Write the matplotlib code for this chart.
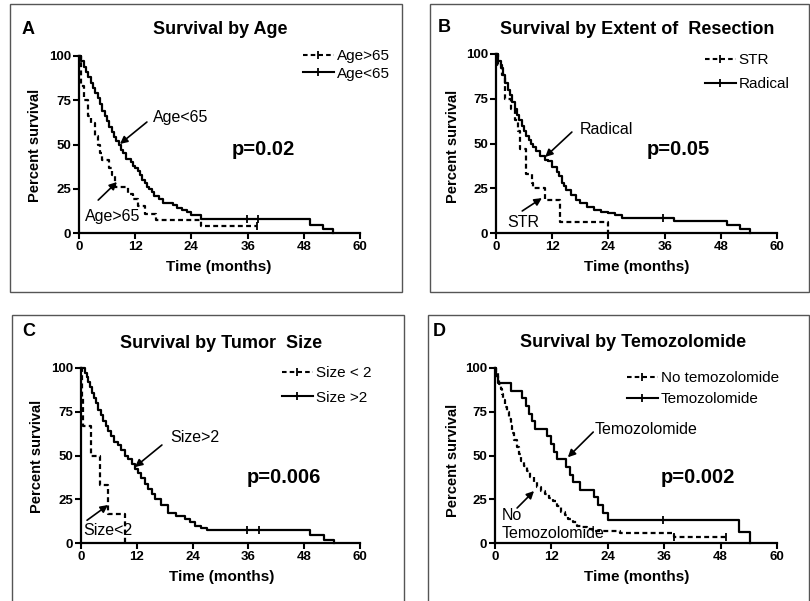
import matplotlib
matplotlib.use("Agg")
import matplotlib.pyplot as plt
from matplotlib.lines import Line2D
from matplotlib.patches import Rectangle

plt.rcParams['font.family'] = ['Liberation Sans', 'DejaVu Sans']

# ---- data (months, percent survival) ----
# A: age
age_gt65_t = [0, 0.5, 1.0, 2.0, 2.5, 3.5, 4.0, 4.5, 5.0, 6.3, 7.0, 7.7, 10.5, 11.5, 12.5, 14.0, 16.5, 26.0]
age_gt65_s = [100, 83, 75, 66, 62, 55, 50, 45, 41, 37, 33, 26, 22, 19, 15, 11, 7.4, 3.7]
age_gt65_end = 38
age_gt65_cens = [38]

age_lt65_t = [0, 0.5, 1, 1.5, 2, 2.5, 3, 3.5, 4, 4.5, 5, 5.5, 6, 6.5, 7, 7.5, 8, 8.5, 9, 9.5, 10,
              11, 11.5, 12, 12.5, 13, 13.5, 14, 14.5, 15, 15.5, 16, 17, 18, 20, 21, 22, 23, 24, 26,
              49.3, 52.1, 54.3]
age_lt65_s = [100, 97, 94, 91, 88, 85, 82, 79, 76, 73, 69, 66, 63, 60, 57, 54, 52, 50, 47, 45, 42,
              40, 38, 37, 35, 33, 30, 28, 26, 25, 23, 21, 19, 17, 16, 14, 13, 12, 10, 7.7,
              4.5, 2.1, 0]
age_lt65_end = None
age_lt65_cens = [35.8, 38.2]

# B: extent of resection
str_t = [0, 0.4, 1.2, 1.9, 3.2, 4.0, 4.8, 5.1, 6.5, 7.6, 8.0, 10.5, 13.7, 24.0]
str_s = [100, 94, 88, 75, 69, 63, 57, 47, 33, 28, 25, 18.6, 6.3, 0]
str_end = None
str_cens = []

rad_t = [0, 0.5, 1, 1.5, 2, 2.5, 3, 3.5, 4, 4.5, 5, 5.5, 6, 6.5, 7, 7.5, 8, 8.5, 9.5, 10.5, 11,
         12, 13, 13.5, 14, 14.5, 15, 16, 17, 18, 19.5, 21, 22.5, 24, 25.5, 27, 38, 49.3, 52, 54.3]
rad_s = [100, 96, 92, 88, 84, 80, 77, 73, 69, 66, 63, 60, 57, 54, 52, 50, 48, 46, 43, 41, 40,
         37, 34, 32, 28, 26, 24, 21, 18.5, 16.5, 14.7, 13, 11.5, 11, 10, 8.4, 6.5, 4.4, 2.2, 0]
rad_end = None
rad_cens = [35.6]

# C: tumor size
small_t = [0, 0.2, 0.4, 2.1, 4.1, 5.7, 9.5]
small_s = [100, 83.3, 66.7, 50, 33.3, 16.7, 0]
small_end = None
small_cens = []

big_t = [0, 0.8, 1.2, 1.6, 2.0, 2.4, 2.8, 3.2, 3.7, 4.2, 4.7, 5.3, 5.9, 6.5, 7.2, 8.0, 8.7, 9.4,
         10.2, 10.9, 11.6, 12.3, 13.0, 13.7, 14.4, 15.2, 16.0, 17.3, 18.8, 20.5, 22.4, 23.5, 24.5,
         25.8, 27.0, 49.2, 52.2, 54.4]
big_s = [100, 97, 95, 92, 89, 86, 83, 80, 76, 73, 70, 67, 64, 61, 58, 56, 53, 50,
         48, 45, 42.5, 40, 37, 34, 31, 28, 25, 21.5, 17, 15.5, 14, 12, 10,
         8.5, 7.7, 4.8, 2, 0]
big_end = None
big_cens = [35.7, 38.3]

# D: temozolomide
notmz_t = [0, 0.3, 0.6, 0.9, 1.2, 1.5, 1.8, 2.1, 2.5, 2.9, 3.3, 3.7, 4.1, 4.6, 5.1, 5.6, 6.2, 6.8,
           7.5, 8.2, 9.0, 9.8, 10.6, 11.5, 12.4, 13.2, 14.0, 14.8, 15.6, 16.5, 17.5, 18.5, 19.5,
           21.0, 26.5, 38.0]
notmz_s = [100, 97, 94, 91, 88, 85, 82, 78, 75, 71, 67, 63, 59, 55, 51, 47, 44, 41,
           38, 35, 32, 30, 28, 26, 24, 21, 18, 16, 14, 12, 10, 9, 8,
           7, 5.5, 3.6]
notmz_end = 49.2
notmz_cens = [38.0, 49.2]

tmz_t = [0, 0.3, 0.6, 3.5, 5.7, 6.5, 7.2, 7.8, 8.5, 11.0, 12.0, 12.6, 13.1, 15.0, 16.0, 16.5,
         18.0, 21.0, 22.0, 23.0, 24.0, 52.0, 54.2]
tmz_s = [100, 95.7, 91.3, 87.0, 82.6, 78.3, 73.9, 69.6, 65.2, 60.9, 56.5, 52.2, 47.8, 43.5, 39.1,
         34.8, 30.4, 26.1, 21.7, 17.4, 13.0, 6.5, 0]
tmz_end = None
tmz_cens = [35.7]

xticks = [0, 12, 24, 36, 48, 60]
yticks = [0, 25, 50, 75, 100]

W, H = 810, 601
fig = plt.figure(figsize=(W / 100, H / 100), dpi=100)


def fx(x):
    return x / W


def fy(y):
    return 1 - y / H


def box(x0, y0, x1, y1):
    fig.add_artist(Rectangle((fx(x0), fy(y1)), (x1 - x0) / W, (y1 - y0) / H,
                             transform=fig.transFigure, fill=False, ec='#555555', lw=1))


def make_ax(x0, x1, ytop, ybot):
    ax = fig.add_axes([fx(x0), fy(ybot), (x1 - x0) / W, (ybot - ytop) / H])
    ax.set_xlim(0, 60)
    ax.set_ylim(0, 100)
    ax.set_xticks(xticks)
    ax.set_yticks(yticks)
    for s in ['top', 'right']:
        ax.spines[s].set_visible(False)
    for s in ['left', 'bottom']:
        ax.spines[s].set_linewidth(1.6)
    ax.tick_params(direction='out', length=4, width=1.5, labelsize=9.5, pad=1.5)
    for lab in ax.get_xticklabels() + ax.get_yticklabels():
        lab.set_fontweight('bold')
    ax.patch.set_alpha(0)
    return ax


def km(ax, t, s, end, cens, dashed):
    tt = list(t)
    ss = list(s)
    if end is not None:
        tt.append(end)
        ss.append(ss[-1])
    ls = (0, (2.2, 1.5)) if dashed else '-'
    ax.step(tt, ss, where='post', color='black', lw=1.6, ls=ls, clip_on=False)
    if cens:
        cs = []
        for c in cens:
            val = s[0]
            for ti, si in zip(t, s):
                if ti <= c:
                    val = si
            cs.append(val)
        ax.plot(cens, cs, ls='none', marker='|', ms=6, mew=1.3, color='black', clip_on=False)


def legend(ax, labels, x, y, spacing):
    hs = [Line2D([], [], color='black', lw=1.5, ls=(0, (2.2, 1.5)), marker='|', ms=6, mew=1.3),
          Line2D([], [], color='black', lw=1.5, ls='-', marker='|', ms=6, mew=1.3)]
    ax.legend(hs, labels, loc='upper left', bbox_to_anchor=(fx(x), fy(y)),
              bbox_transform=fig.transFigure, frameon=False, fontsize=11,
              handlelength=2.0, handletextpad=0.2, labelspacing=spacing,
              borderpad=0, borderaxespad=0, numpoints=1)


def arrow(ax, start, tip):
    ax.annotate('', xy=tip, xytext=start,
                arrowprops=dict(arrowstyle='-|>', color='black', lw=1.2, mutation_scale=11,
                                shrinkA=0, shrinkB=0), annotation_clip=False)


def frame_text(letter, lx, ly, title, tx, ty, ylx, yly, xlx, xly):
    fig.text(fx(lx), fy(ly), letter, fontsize=13, fontweight='bold', ha='left', va='center')
    fig.text(fx(tx), fy(ty), title, fontsize=13, fontweight='bold', ha='center', va='center')
    fig.text(fx(ylx), fy(yly), 'Percent survival', fontsize=10.5, fontweight='bold',
             rotation=90, ha='center', va='center')
    fig.text(fx(xlx), fy(xly), 'Time (months)', fontsize=11, fontweight='bold',
             ha='center', va='center')


# ---- panel A ----
box(10, 4, 402, 292)
axA = make_ax(79, 360, 56, 233)
km(axA, age_gt65_t, age_gt65_s, age_gt65_end, age_gt65_cens, True)
km(axA, age_lt65_t, age_lt65_s, age_lt65_end, age_lt65_cens, False)
legend(axA, ['Age>65', 'Age<65'], 303, 49, 0.25)
frame_text('A', 22, 29, 'Survival by Age', 220, 29, 35, 145, 219, 267)
axA.text(15.8, 65.5, 'Age<65', fontsize=11.5, va='center')
arrow(axA, (14.5, 62.7), (8.75, 50.3))
axA.text(1.3, 9.6, 'Age>65', fontsize=11.5, va='center')
arrow(axA, (4.1, 18.6), (8.1, 28.8))
axA.text(39.3, 46.9, 'p=0.02', fontsize=14.5, fontweight='bold', ha='center', va='center')

# ---- panel B ----
box(430, 4, 809, 292)
axB = make_ax(496, 777, 54, 233)
km(axB, str_t, str_s, str_end, str_cens, True)
km(axB, rad_t, rad_s, rad_end, rad_cens, False)
legend(axB, ['STR', 'Radical'], 705, 53, 0.65)
frame_text('B', 438, 28, 'Survival by Extent of  Resection', 637, 29, 453, 146, 637, 267)
axB.text(17.9, 58, 'Radical', fontsize=11.5, va='center')
arrow(axB, (16.2, 56.4), (10.5, 42.5))
axB.text(2.35, 6.1, 'STR', fontsize=11.5, va='center')
arrow(axB, (5.6, 12.3), (9.8, 19.5))
axB.text(39, 46.4, 'p=0.05', fontsize=14.5, fontweight='bold', ha='center', va='center')

# ---- panel C ----
box(12, 315, 404, 612)
axC = make_ax(81, 360, 368, 543)
km(axC, small_t, small_s, small_end, small_cens, True)
km(axC, big_t, big_s, big_end, big_cens, False)
legend(axC, ['Size < 2', 'Size >2'], 282, 366, 0.7)
frame_text('C', 22, 332, 'Survival by Tumor  Size', 221, 343, 37, 456, 222, 577)
axC.text(19.1, 60, 'Size>2', fontsize=11.5, va='center')
arrow(axC, (17.4, 56), (11.6, 43.4))
axC.text(0.4, 7.4, 'Size<2', fontsize=11.5, va='center')
arrow(axC, (1.3, 13), (5.8, 21.7))
axC.text(43.7, 37.7, 'p=0.006', fontsize=14.5, fontweight='bold', ha='center', va='center')

# ---- panel D ----
box(428, 315, 809, 612)
axD = make_ax(495, 777, 368, 543)
km(axD, notmz_t, notmz_s, notmz_end, notmz_cens, True)
km(axD, tmz_t, tmz_s, tmz_end, tmz_cens, False)
legend(axD, ['No temozolomide', 'Temozolomide'], 627, 371, 0.45)
frame_text('D', 433, 332, 'Survival by Temozolomide', 633, 342, 453, 460, 637, 577)
axD.text(21.3, 64.6, 'Temozolomide', fontsize=11.5, va='center')
arrow(axD, (20.9, 63.4), (15.5, 49))
axD.text(1.5, 16, 'No', fontsize=11.5, va='center')
axD.text(1.5, 5.7, 'Temozolomide', fontsize=11.5, va='center')
arrow(axD, (4.7, 20), (8.3, 29.7))
axD.text(43.1, 37.7, 'p=0.002', fontsize=14.5, fontweight='bold', ha='center', va='center')

fig.savefig('out.png', dpi=100, facecolor='white')
